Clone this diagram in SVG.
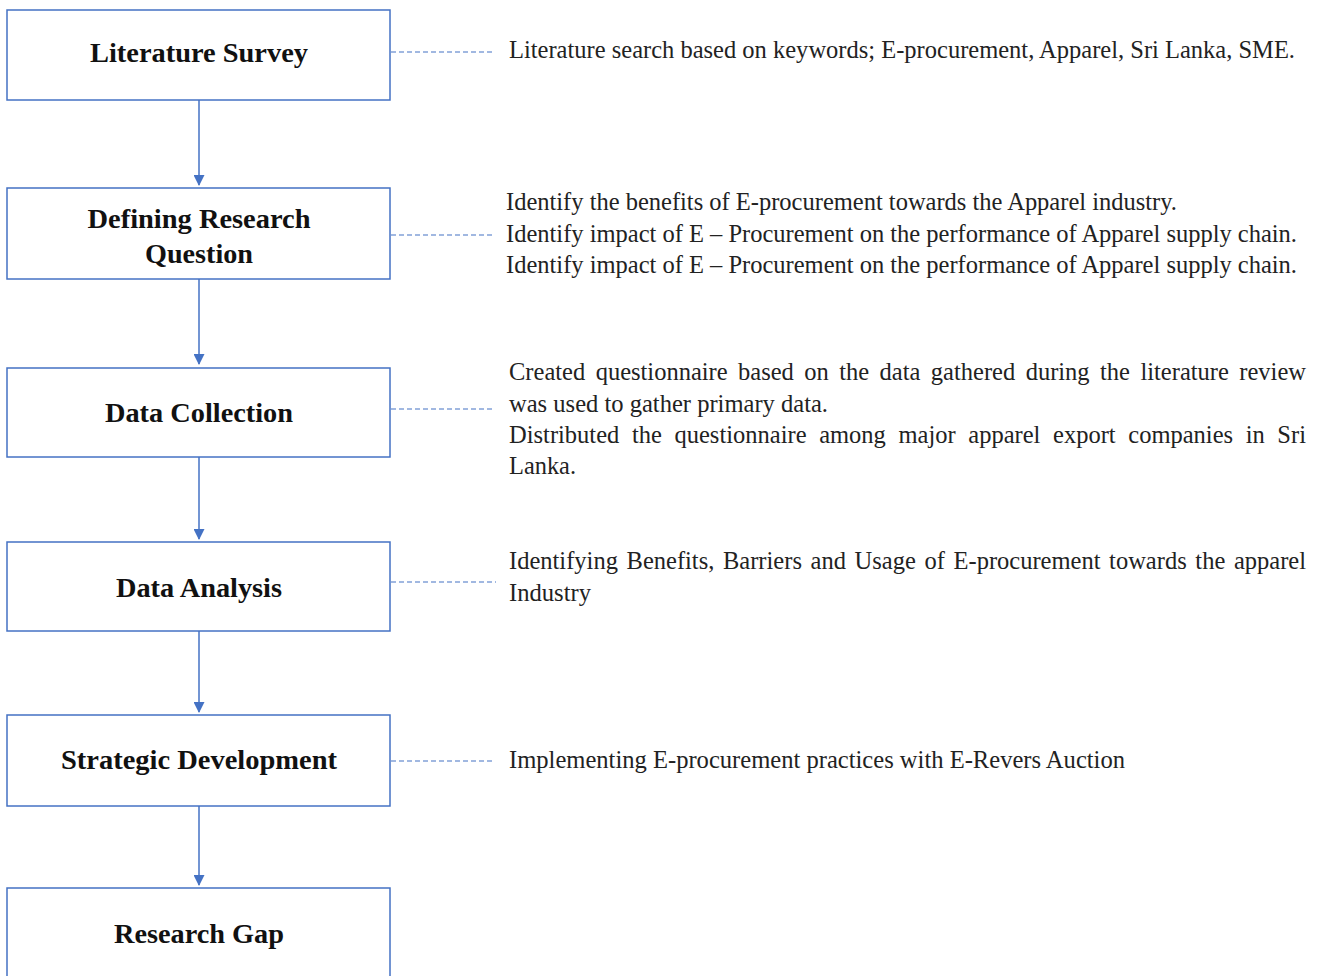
<svg xmlns="http://www.w3.org/2000/svg" width="1317" height="976" viewBox="0 0 1317 976">
<defs>
<marker id="ah" markerWidth="11" markerHeight="11" refX="10" refY="5.5" orient="auto" markerUnits="userSpaceOnUse" viewBox="0 0 11 11">
<path d="M0,0 L11,5.5 L0,11 Z" fill="#4472C4"/>
</marker>
<style>
.box{fill:#fff;stroke:#4472C4;stroke-width:1.5}
.t{font-family:"Liberation Serif","Times New Roman",serif;font-weight:bold;font-size:28px;fill:#111;text-anchor:middle}
.d{font-family:"Liberation Serif","Times New Roman",serif;font-size:24.5px;fill:#222}
.dash{stroke:#4472C4;stroke-width:1.2;stroke-dasharray:5,3;fill:none}
.arr{stroke:#4472C4;stroke-width:1.5;fill:none}
</style>
</defs>
<rect width="1317" height="976" fill="#fff"/>
<g id="connectors">
<line class="arr" x1="199" y1="100" x2="199" y2="185" marker-end="url(#ah)"/>
<line class="arr" x1="199" y1="279" x2="199" y2="364" marker-end="url(#ah)"/>
<line class="arr" x1="199" y1="457" x2="199" y2="539" marker-end="url(#ah)"/>
<line class="arr" x1="199" y1="631" x2="199" y2="712" marker-end="url(#ah)"/>
<line class="arr" x1="199" y1="806" x2="199" y2="885" marker-end="url(#ah)"/>
<line class="dash" x1="391" y1="52" x2="493" y2="52"/>
<line class="dash" x1="391" y1="235" x2="493" y2="235"/>
<line class="dash" x1="391" y1="409" x2="493" y2="409"/>
<line class="dash" x1="391" y1="582" x2="496" y2="582"/>
<line class="dash" x1="391" y1="761" x2="493" y2="761"/>
</g>
<g id="n1"><rect class="box" x="7" y="10" width="383" height="90"/><text class="t" x="199" y="62" textLength="218" lengthAdjust="spacingAndGlyphs">Literature Survey</text></g>
<g id="n2"><rect class="box" x="7" y="188" width="383" height="91"/><text class="t" x="199" y="228" textLength="223" lengthAdjust="spacingAndGlyphs">Defining Research</text><text class="t" x="199" y="263" textLength="108" lengthAdjust="spacingAndGlyphs">Question</text></g>
<g id="n3"><rect class="box" x="7" y="368" width="383" height="89"/><text class="t" x="199" y="422" textLength="188" lengthAdjust="spacingAndGlyphs">Data Collection</text></g>
<g id="n4"><rect class="box" x="7" y="542" width="383" height="89"/><text class="t" x="199" y="597" textLength="166" lengthAdjust="spacingAndGlyphs">Data Analysis</text></g>
<g id="n5"><rect class="box" x="7" y="715" width="383" height="91"/><text class="t" x="199" y="769" textLength="276" lengthAdjust="spacingAndGlyphs">Strategic Development</text></g>
<g id="n6"><rect class="box" x="7" y="888" width="383" height="100"/><text class="t" x="199" y="943" textLength="170" lengthAdjust="spacingAndGlyphs">Research Gap</text></g>
<g id="desc">
<text class="d" x="509" y="58" textLength="786" lengthAdjust="spacingAndGlyphs">Literature search based on keywords; E-procurement, Apparel, Sri Lanka, SME.</text>
<text class="d" x="506" y="210" textLength="671" lengthAdjust="spacingAndGlyphs">Identify the benefits of E-procurement towards the Apparel industry.</text>
<text class="d" x="506" y="242" textLength="791" lengthAdjust="spacingAndGlyphs">Identify impact of E – Procurement on the performance of Apparel supply chain.</text>
<text class="d" x="506" y="273" textLength="791" lengthAdjust="spacingAndGlyphs">Identify impact of E – Procurement on the performance of Apparel supply chain.</text>
<text class="d" x="509" y="380" word-spacing="4.3" textLength="797" lengthAdjust="spacing">Created questionnaire based on the data gathered during the literature review</text>
<text class="d" x="509" y="412" textLength="319" lengthAdjust="spacingAndGlyphs">was used to gather primary data.</text>
<text class="d" x="509" y="443" word-spacing="6.5" textLength="797" lengthAdjust="spacing">Distributed the questionnaire among major apparel export companies in Sri</text>
<text class="d" x="509" y="474" textLength="67" lengthAdjust="spacingAndGlyphs">Lanka.</text>
<text class="d" x="509" y="569" word-spacing="2.5" textLength="797" lengthAdjust="spacing">Identifying Benefits, Barriers and Usage of E-procurement towards the apparel</text>
<text class="d" x="509" y="601" textLength="82" lengthAdjust="spacingAndGlyphs">Industry</text>
<text class="d" x="509" y="768" textLength="616" lengthAdjust="spacingAndGlyphs">Implementing E-procurement practices with E-Revers Auction</text>
</g>
</svg>
